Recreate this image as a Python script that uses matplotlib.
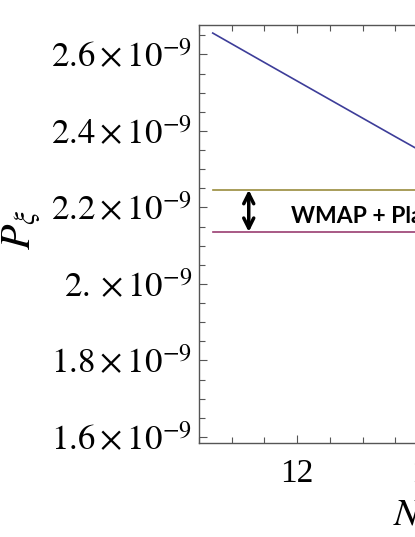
import matplotlib
matplotlib.use('Agg')
import matplotlib.pyplot as plt
from matplotlib.ticker import FixedLocator, FixedFormatter, MultipleLocator

# data
n_vals = [10.71, 11.5, 12.5, 13.5, 14.0]
p_vals = [2.656e-9, 2.579e-9, 2.482e-9, 2.385e-9, 2.337e-9]
n_band = [10.71, 16.0]
p_upper = 2.246e-9
p_lower = 2.136e-9

y_ticks = [1.6e-9, 1.8e-9, 2.0e-9, 2.2e-9, 2.4e-9, 2.6e-9]
y_tick_labels = [r'$1.6\times10^{-9}$', r'$1.8\times10^{-9}$', r'$2.\times10^{-9}$',
                 r'$2.2\times10^{-9}$', r'$2.4\times10^{-9}$', r'$2.6\times10^{-9}$']
x_ticks = [12, 14, 16]
x_tick_labels = ['12', '14', '16']

plt.rcParams['mathtext.fontset'] = 'stix'
plt.rcParams['font.family'] = ['Liberation Serif', 'DejaVu Serif']

fig = plt.figure(figsize=(4.15, 5.37), dpi=100)
ax = fig.add_axes([0.4795, 0.175, 0.8675, 0.7784])

ax.plot(n_vals, p_vals, color='#3d3d99', lw=1.2)
ax.plot(n_band, [p_upper, p_upper], color='#998c3d', lw=1.2)
ax.plot(n_band, [p_lower, p_lower], color='#993d71', lw=1.2)

# double arrow between the two bounds
ax.annotate('', xy=(11.26, p_upper), xytext=(11.26, p_lower),
            arrowprops=dict(arrowstyle='<->', color='black', lw=2.5,
                            mutation_scale=18, shrinkA=0, shrinkB=0))
ax.text(11.9, 2.159e-9, 'WMAP + Planck', fontsize=16.5, fontweight='bold',
        family='Lato', va='baseline', ha='left')

ax.set_xlim(10.5, 16.0)
ax.set_ylim(1.584e-9, 2.677e-9)

ax.yaxis.set_major_locator(FixedLocator(y_ticks))
ax.yaxis.set_major_formatter(FixedFormatter(y_tick_labels))
ax.yaxis.set_minor_locator(MultipleLocator(0.05e-9))
ax.xaxis.set_major_locator(FixedLocator(x_ticks))
ax.xaxis.set_major_formatter(FixedFormatter(x_tick_labels))
ax.xaxis.set_minor_locator(MultipleLocator(0.5))

for s in ax.spines.values():
    s.set_color('#555555')
    s.set_linewidth(1.0)
ax.tick_params(which='both', direction='in', top=True, right=True,
               color='#555555', labelsize=24)
ax.tick_params(which='major', length=6, width=0.8)
ax.tick_params(which='minor', length=4, width=0.8)
ax.tick_params(axis='y', pad=5, labelsize=25)
ax.tick_params(axis='x', pad=11)

fig.text(22 / 415, 1 - 230 / 537, r'$P_{\xi}$', fontsize=30, rotation=90,
         ha='center', va='center')
fig.text(393 / 415, 1 - 515 / 537, r'$N$', fontsize=28, ha='left', va='center')

fig.savefig('out.png', dpi=100)
